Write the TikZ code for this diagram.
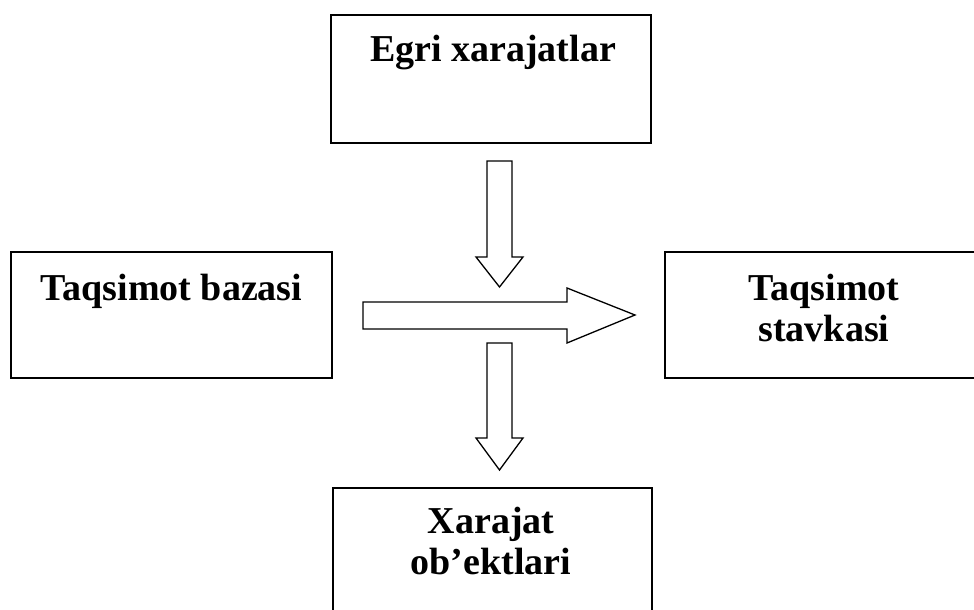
\documentclass[tikz,border=0pt]{standalone}
\usepackage{fontspec}
\setmainfont{Liberation Serif}
\begin{document}
\begin{tikzpicture}[x=1pt,y=-1pt,
  box/.style={draw=black,line width=1.8pt,rectangle,inner sep=0pt,minimum width=#1},
  lbl/.style={font=\bfseries\fontsize{38}{41}\selectfont,inner sep=0pt,align=center},
  blockarrow/.style={draw=black,line width=1.3pt,fill=white,line join=miter}]
\useasboundingbox (0,0) rectangle (974,610);
\clip (0,0) rectangle (974,610);
% boxes
\node[box=320pt,minimum height=128pt] (egri) at (491,79) {};
\node[box=321pt,minimum height=126pt] (baza) at (171.5,315) {};
\node[box=318pt,minimum height=126pt] (stav) at (824,315) {};
\node[box=319pt,minimum height=140pt] (obj) at (492.5,558) {};
% labels
\node[lbl,anchor=base] (egrit) at (493,62) {Egri xarajatlar};
\node[lbl,anchor=base] (bazat) at (171.5,300) {Taqsimot bazasi};
\node[lbl,anchor=base] (stavt) at (824,341) {Taqsimot\\stavkasi};
\node[lbl,anchor=base] (objt) at (491,574) {Xarajat\\ob’ektlari};
% block arrows
\draw[blockarrow] (487,161) -- (512,161) -- (512,257) -- (523,257) -- (499.5,287)
  -- (476,257) -- (487,257) -- cycle;
\draw[blockarrow] (363,302) -- (567,302) -- (567,288) -- (635,315) -- (567,343)
  -- (567,329) -- (363,329) -- cycle;
\draw[blockarrow] (487,343) -- (512,343) -- (512,438) -- (523,438) -- (499.5,470)
  -- (476,438) -- (487,438) -- cycle;
\end{tikzpicture}
\end{document}
